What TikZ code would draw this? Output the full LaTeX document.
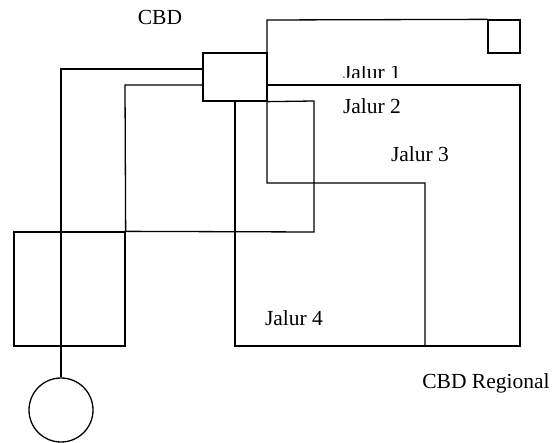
\documentclass[tikz,border=0pt]{standalone}
\usepackage{fontspec}
\setmainfont{Liberation Serif}
\begin{document}
\begin{tikzpicture}[x=1pt,y=-1pt,
  ln/.style={line width=1.3pt,line join=miter},
  box/.style={draw,line width=1.3pt,inner sep=0pt,rectangle},
  lbl/.style={font=\fontsize{21.5}{24}\selectfont,inner sep=0pt}]
\useasboundingbox (0,0) rectangle (552,443);
% nodes
\node[box,minimum width=64,minimum height=48] (cbd) at (235,77) {};
\node[box,minimum width=32,minimum height=33] (sq) at (504,36.5) {};
\node[box,minimum width=111,minimum height=114] (rect) at (69.5,289) {};
\node[draw,line width=1.3pt,circle,minimum size=64,inner sep=0pt] (reg) at (61,410) {};
% coordinates
\coordinate (j1a) at (267,85);
\coordinate (j1b) at (520,85);
\coordinate (j1c) at (520,346);
\coordinate (j1d) at (235,346);
\coordinate (t1) at (267,20);
\coordinate (t2) at (267,183);
\coordinate (t3) at (425,183);
\coordinate (t4) at (425,346);
\coordinate (j2a) at (314,101);
\coordinate (j2b) at (314,232);
\coordinate (la) at (203,85);
\coordinate (lb) at (125,85);
\coordinate (ma) at (203,69);
\coordinate (mb) at (61,69);
% connectors
\draw[ln] (j1a) -- (j1b) -- (j1c) -- (j1d) -- (cbd.south);
\draw[ln] (sq.north west) -- (t1) -- (t2) -- (t3) -- (t4);
\draw[ln] (cbd.south east) -- (j2a) -- (j2b) -- (rect.north east);
\draw[ln] (la) -- (lb) -- (rect.north east);
\draw[ln] (ma) -- (mb) -- (reg.north);
% labels
\node[lbl] (tcbd) at (160,17) {CBD};
\begin{scope}
\clip (330,66.5) rectangle (415,77.5);
\node[lbl] (tj1) at (372,72) {Jalur 1};
\end{scope}
\node[lbl] (tj2) at (372,106) {Jalur 2};
\node[lbl] (tj3) at (420,154) {Jalur 3};
\node[lbl] (tj4) at (294,318) {Jalur 4};
\node[lbl] (treg) at (486,383) {CBD Regional};
\end{tikzpicture}
\end{document}
